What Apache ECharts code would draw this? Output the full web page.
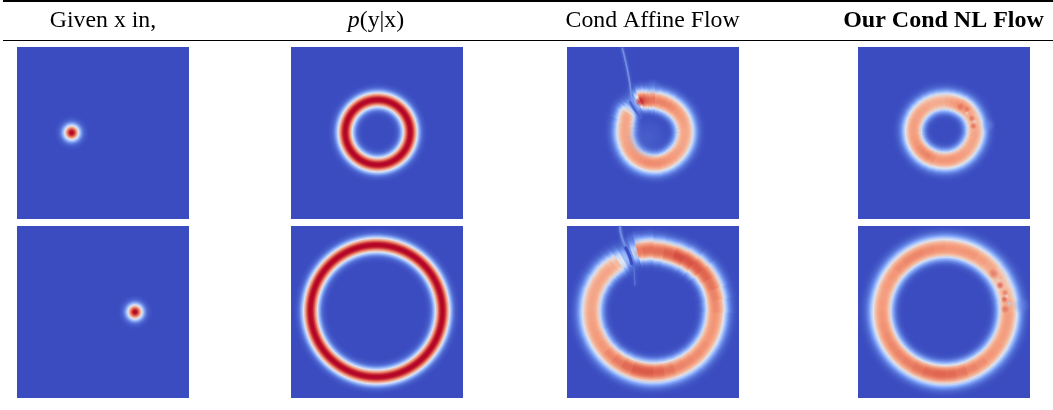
<!DOCTYPE html>
<html><head><meta charset="utf-8">
<style>html,body{margin:0;padding:0;background:#fff}#c{width:1053px;height:410px}</style>
<script src="https://cdn.jsdelivr.net/npm/echarts@6/dist/echarts.min.js"></script>
</head><body><div id="c"></div>
<script>
// Header labels
const headers = ['Given x in,', 'p(y|x)', 'Cond Affine Flow', 'Our Cond NL Flow'];
// Colormap (low to high density)
const colormap = ['#3b4cc0','#5572d6','#7b9ff9','#b3cdfb','#dde4f2','#f4c5ad','#f49a7b','#dc5d4a','#b40426'];
// Density across a ring, by distance in panel units from the crest
const trueOffsets = [-18,-16,-13,-11,-9,-7,-5,-3,-1.5,0,1.5,3,5,7,9,11,13,16,18];
const trueDensity = [0,.01,.06,.15,.3,.5,.74,.92,.99,1,.99,.92,.74,.5,.3,.15,.06,.01,0];
const flowOffsets = [-19,-16,-14,-12,-10,-8,-6,-4,-2,0,2,4,6,8,10,12,14,16,19,22];
const flowDensity = [0,.03,.1,.22,.38,.6,.82,.94,.99,1,.99,.94,.84,.66,.46,.3,.18,.09,.02,0];

// Exact density panels: centre x, centre y, crest radius
const inputTop = [54.7,85.7,0];
const inputBottom = [118,86,0];
const exactTop = [86.7,85.3,32.5];
const exactBottom = [85.5,85,66];

// Flow panels: crest height and radius at each bearing (deg clockwise from +x)
const affineTopCentre = [88,85.3];
const affineTopAngles = [0,10,20,30,40,50,60,70,80,90,100,110,120,130,140,150,160,170,180,190,200,205,210,215,220,225,230,235,240,245,250,255,260,270,280,290,300,310,320,330,340,350];
const affineTopPeaks  = [.72,.72,.72,.73,.74,.75,.76,.77,.78,.78,.78,.77,.76,.75,.74,.73,.72,.72,.72,.72,.72,.72,.7,.58,.42,.3,.25,.32,.6,.9,.88,.85,.83,.8,.8,.79,.78,.76,.75,.74,.73,.72];
const affineTopRadii  = [30,30,30,30,30,30.2,30.5,30.7,31,31,31,31,31,30.8,30.5,30.2,30,30,30,30.5,31.5,32,32.8,33.3,33.5,33.7,34,34,34.2,34.5,34,33,32.3,31.2,30.6,30.3,30,30,30,30,30,30];

const affineBottomCentre = [86.3,85.3];
const affineBottomAngles = [0,10,20,30,40,50,60,70,80,90,100,110,120,130,140,150,160,170,180,190,200,210,220,225,230,235,240,245,250,255,260,270,280,290,300,310,320,330,340,350];
const affineBottomPeaks  = [.76,.76,.76,.77,.78,.79,.8,.83,.86,.88,.88,.85,.82,.79,.76,.75,.74,.73,.72,.72,.72,.72,.72,.7,.66,.5,.33,.25,.4,.82,.84,.84,.87,.9,.89,.88,.86,.83,.8,.78];
const affineBottomRadii  = [61.7,61.7,61.7,61.5,61.5,61.2,61,60.8,60.7,60.7,60.7,60.8,61,61.3,61.5,61.7,62,62,62,62,61.7,61.2,60.7,60.2,59.7,59.5,59.8,60.5,61.5,62,61.5,60.5,60,60.3,61,62,63,63.2,62.8,62.2];

const nlTopCentre = [87,83.7];
const nlTopAngles = [0,10,20,30,40,50,60,70,80,90,100,110,120,130,140,150,160,170,180,190,200,210,220,230,240,250,260,270,280,290,300,310,320,330,340,350];
const nlTopPeaks  = [.72,.72,.72,.72,.73,.74,.75,.76,.76,.76,.76,.78,.8,.79,.78,.76,.75,.74,.74,.74,.73,.73,.72,.71,.7,.7,.7,.72,.74,.76,.78,.76,.72,.7,.7,.71];
const nlTopRadii  = [30,29.8,29.6,29.5,29.5,29.5,29.5,29.5,29.5,29.5,29.7,30,30.3,30.7,31,31.3,31.5,31.5,31.5,31.3,31,30.6,30.2,29.8,29.5,29.2,29,29,29,29.2,29.5,29.8,30,30,30,30];

const nlBottomCentre = [87,85.3];
const nlBottomAngles = [0,10,20,30,40,50,60,70,80,90,100,110,120,130,140,150,160,170,180,190,200,210,220,230,240,250,260,270,280,290,300,310,320,330,340,350];
const nlBottomPeaks  = [.74,.74,.74,.75,.76,.78,.8,.83,.85,.86,.85,.83,.81,.8,.79,.78,.77,.76,.75,.74,.75,.76,.78,.79,.79,.78,.77,.76,.76,.76,.74,.72,.68,.66,.68,.72];
const nlBottomRadii  = [63,63,63,63,63,63,63,63,63,63,63,63,63,63,63,63,63,63,63,63,63,63,63,63,63,63,63,63,63,63,63,63,63,63,63,63];

// Soft spots laid over a panel: x, y, radius, density, strength
const affineTopSpots = [[73,54.7,5,.97,.8],[81,90,22,.11,.55],[86,40,9,.18,.35]];
const affineBottomSpots = [[71,27,5,.8,.5],[66,14,9,.2,.35]];
const nlTopSpots = [[102,59.7,4,.86,.6],[108.7,62,3.5,.86,.6],[113.7,71.3,3.5,.88,.7],[115.3,79,3.5,.88,.7],
  [108.7,66.3,2.5,.58,.7],[117,74.7,2.5,.55,.7],[130.3,78,7,.2,.5]];
const nlBottomSpots = [[135.3,47.7,5.5,.86,.7],[142,59.3,4,.9,.75],[147,66.7,3.5,.84,.75],[146.3,73.3,3.5,.9,.75],[147,83.3,4.5,.86,.75],
  [140.3,54.3,3,.58,.7],[148.7,70,2.5,.55,.7],[151.3,77.7,3,.4,.7],[163.7,79.3,9,.18,.5]];

// Thin artefact streaks: polyline in panel units
const affineTopStreakPale = [[55.3,1.3],[59,16.3],[62.3,33],[64.7,49.7],[68,59.7],[73,69.7]];
const affineTopStreakDark = [[63,55],[68,63],[74,71]];
const affineBottomStreakPale = [[53,1],[54.7,11],[58,19.3]];
const affineBottomStreakDark = [[58.7,22],[62.3,29.3],[64.7,37.7]];
const affineBottomStreakWash = [[67,41],[68,59.3]];

// ---- layout ----
const panelXs = [17,291,567,858];
const panelYs = [47,226];
const panelSize = 172;
const headerCentres = [103,376,652.6,943.5];

const chart = echarts.init(document.getElementById('c'));
const val = v => echarts.color.lerp(Math.min(1,Math.max(0,v)), colormap);
const grids=[],xAxes=[],yAxes=[],series=[];

function stopsFor(R,peak,offs,dens,w){
  const rMax=R+offs[offs.length-1]*w;
  const s=[];
  offs.forEach((d,i)=>{
    const o=(R+d*w)/rMax;
    if(o>=0) s.push({offset:o,color:val(dens[i]*peak)});
  });
  if(s[0].offset>0) s.unshift({offset:0,color:val(0)});
  return {rMax,stops:s};
}
function ringSeries(gi,rows,offs,dens,w){
  series.push({type:'custom',xAxisIndex:gi,yAxisIndex:gi,silent:true,clip:true,animation:false,data:rows,
    renderItem(p,api){
      const c=api.coord([api.value(0),api.value(1)]);
      const k=api.size([1,1])[0];
      const {rMax,stops}=stopsFor(api.value(4),api.value(5),offs,dens,w);
      const scaled=rMax*k;
      return {type:'sector',shape:{cx:c[0],cy:c[1],r0:0,r:scaled,
          startAngle:api.value(2)*Math.PI/180,endAngle:api.value(3)*Math.PI/180,clockwise:true},
        style:{fill:new echarts.graphic.RadialGradient(c[0],c[1],scaled,stops,true)}};
    }});
}
function spotSeries(gi,rows){
  series.push({type:'custom',xAxisIndex:gi,yAxisIndex:gi,silent:true,clip:true,animation:false,data:rows,
    renderItem(p,api){
      const c=api.coord([api.value(0),api.value(1)]);
      const k=api.size([1,1])[0];
      const r=api.value(2)*k, col=val(api.value(3)), a=api.value(4);
      return {type:'circle',shape:{cx:c[0],cy:c[1],r},
        style:{fill:new echarts.graphic.RadialGradient(c[0],c[1],r,[
          {offset:0,color:echarts.color.modifyAlpha(col,a)},
          {offset:.5,color:echarts.color.modifyAlpha(col,a*.6)},
          {offset:1,color:echarts.color.modifyAlpha(col,0)}],true)}};
    }});
}
function streak(gi,pts,color,width,blur,opacity){
  series.push({type:'line',xAxisIndex:gi,yAxisIndex:gi,silent:true,animation:false,smooth:true,symbol:'none',data:pts,
    lineStyle:{color,width,opacity,shadowBlur:blur,shadowColor:color,cap:'round'}});
}
function flowRows(centre,angles,peaks,radii){
  return angles.map((a,i)=>{
    const next=i+1<angles.length?angles[i+1]:360;
    return [centre[0],centre[1],a,next+1.2,radii[i],peaks[i]];
  });
}
function fullRow(t){return [[t[0],t[1],0,360,t[2],1]];}

panelYs.forEach(y=>panelXs.forEach(x=>{
  grids.push({left:x,top:y,width:panelSize,height:panelSize,show:true,backgroundColor:colormap[0],borderWidth:0});
  const gi=grids.length-1;
  xAxes.push({type:'value',gridIndex:gi,min:0,max:panelSize,show:false});
  yAxes.push({type:'value',gridIndex:gi,min:0,max:panelSize,inverse:true,show:false});
}));

ringSeries(0,fullRow(inputTop),trueOffsets,trueDensity,1);
ringSeries(1,fullRow(exactTop),trueOffsets,trueDensity,1);
ringSeries(2,flowRows(affineTopCentre,affineTopAngles,affineTopPeaks,affineTopRadii),flowOffsets,flowDensity,1);
spotSeries(2,affineTopSpots);
streak(2,affineTopStreakPale,'#7896e6',1.6,3,.85);
streak(2,affineTopStreakDark,'#4a62cc',2,2,.95);
ringSeries(3,flowRows(nlTopCentre,nlTopAngles,nlTopPeaks,nlTopRadii),flowOffsets,flowDensity,1);
spotSeries(3,nlTopSpots);
ringSeries(4,fullRow(inputBottom),trueOffsets,trueDensity,1);
ringSeries(5,fullRow(exactBottom),trueOffsets,trueDensity,1);
ringSeries(6,flowRows(affineBottomCentre,affineBottomAngles,affineBottomPeaks,affineBottomRadii),flowOffsets,flowDensity,1.1);
spotSeries(6,affineBottomSpots);
streak(6,affineBottomStreakPale,'#7391e4',2.2,3,.85);
streak(6,affineBottomStreakDark,'#3b4cc0',2.6,2,1);
streak(6,affineBottomStreakWash,'#5f7edb',1.5,4,.7);
ringSeries(7,flowRows(nlBottomCentre,nlBottomAngles,nlBottomPeaks,nlBottomRadii),flowOffsets,flowDensity,1.1);
spotSeries(7,nlBottomSpots);

const font='"Liberation Serif",serif';
const texts=headers.map((h,i)=>{
  const size=i===3?24:23.8;
  const base={type:'text',x:headerCentres[i],y:20.5,silent:true};
  const st={align:'center',verticalAlign:'middle',fill:'#000',fontFamily:font,fontSize:size};
  if(i===1){
    return {...base,style:{...st,text:'{i|p}('+h.slice(2),rich:{i:{fontStyle:'italic',fontFamily:font,fontSize:size,fill:'#000'}}}};
  }
  if(i===3) return {...base,style:{...st,text:h,fontWeight:'bold'}};
  return {...base,style:{...st,text:h}};
});

chart.setOption({
  animation:false,
  grid:grids,xAxis:xAxes,yAxis:yAxes,series,
  graphic:[
    {type:'line',shape:{x1:3,y1:1,x2:1053,y2:1},style:{stroke:'#000',lineWidth:2},silent:true},
    {type:'line',shape:{x1:3,y1:40.5,x2:1053,y2:40.5},style:{stroke:'#000',lineWidth:1.2},silent:true},
    ...texts
  ]
});
</script></body></html>
